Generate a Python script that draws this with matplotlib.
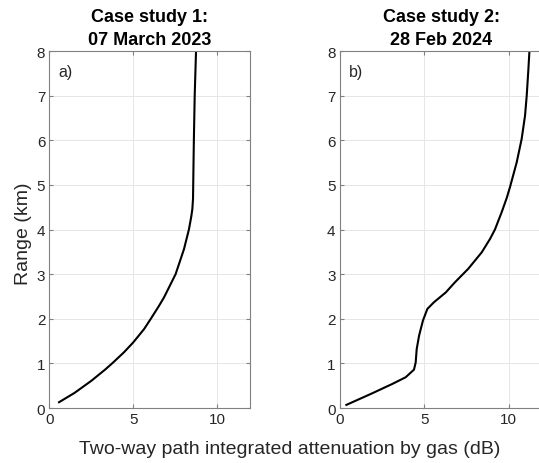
import numpy as np
import matplotlib
matplotlib.use("Agg")
import matplotlib.pyplot as plt

plt.rcParams['font.family'] = ['Liberation Sans', 'DejaVu Sans']

# Case study 1: 07 March 2023 (range in km, attenuation in dB)
range_1 = [0.13, 0.34, 0.61, 0.87, 1.02, 1.25, 1.47, 1.77, 2.0, 2.29, 2.48, 3.0, 3.56,
           4.01, 4.3, 4.46, 4.69, 5.5, 6.0, 7.0, 8.0]
pia_1 = [0.57, 1.5, 2.5, 3.35, 3.8, 4.45, 5.0, 5.65, 6.05, 6.54, 6.84, 7.53, 8.03,
         8.33, 8.47, 8.53, 8.57, 8.6, 8.62, 8.67, 8.75]

# Case study 2: 28 Feb 2024
range_2 = [0.07, 0.33, 0.54, 0.69, 0.86, 1.02, 1.32, 1.62, 1.96, 2.22, 2.37, 2.59,
           2.82, 3.12, 3.49, 3.79, 4.0, 4.39, 4.7, 4.95, 5.51, 6.03, 6.55, 7.0, 7.6, 8.0]
pia_2 = [0.39, 1.92, 3.11, 3.9, 4.39, 4.49, 4.55, 4.69, 4.92, 5.18, 5.57, 6.27,
         6.82, 7.6, 8.4, 8.89, 9.18, 9.58, 9.87, 10.07, 10.47, 10.76, 10.96, 11.06, 11.16, 11.22]

titles = ["Case study 1:\n07 March 2023", "Case study 2:\n28 Feb 2024"]
panel_labels = ["a)", "b)"]

fig = plt.figure(figsize=(5.39, 4.64), dpi=100)
ax1 = fig.add_axes([0.0918, 0.1185, 0.3729, 0.7694])
ax2 = fig.add_axes([0.6304, 0.1185, 0.3763, 0.7694])

for ax, x, y, title, lab in zip([ax1, ax2], [pia_1, pia_2], [range_1, range_2],
                                 titles, panel_labels):
    ax.plot(x, y, color='black', linewidth=1.5, solid_joinstyle='round')
    ax.set_xlim(0, 12)
    ax.set_ylim(0, 8)
    ax.set_xticks([0, 5, 10])
    ax.set_yticks(np.arange(0, 9, 1))
    ax.grid(True, color='#e6e6e6', linewidth=0.7)
    ax.set_axisbelow(True)
    for s in ax.spines.values():
        s.set_color('#808080')
        s.set_linewidth(0.8)
    ax.tick_params(direction='in', length=3, color='#808080', labelcolor='#262626',
                   labelsize=11, top=True, right=True, pad=3)
    ax.set_title(title, fontsize=13, fontweight='bold', pad=5, linespacing=1.45)
    ax.text(0.045, 0.965, lab, transform=ax.transAxes, fontsize=11.5,
            va='top', ha='left', color='#262626')

fig.text(0.043, 0.496, "Range (km)", rotation=90, fontsize=14, color='#262626',
         ha='center', va='center')
fig.text(0.538, 0.032, "Two-way path integrated attenuation by gas (dB)", fontsize=14,
         color='#262626', ha='center', va='center')

fig.savefig("out.png", dpi=100)
